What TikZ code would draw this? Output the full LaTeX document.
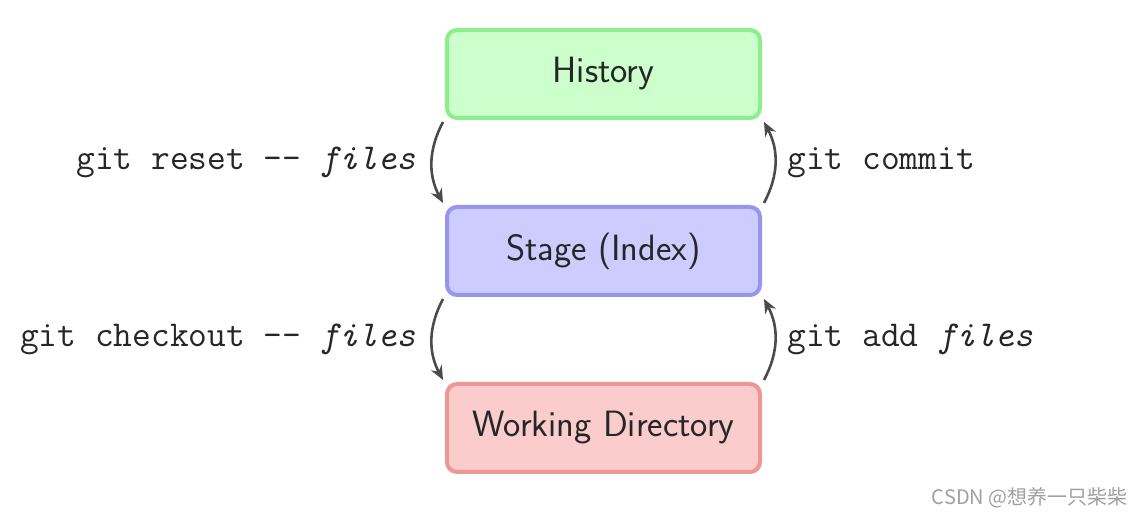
\documentclass[tikz,border=0pt]{standalone}
\usepackage{fontspec}
\newfontfamily\cjk{Noto Sans CJK SC}
\usetikzlibrary{arrows.meta}
\definecolor{hfill}{RGB}{204,255,204}
\definecolor{hdraw}{RGB}{140,238,140}
\definecolor{sfill}{RGB}{204,204,255}
\definecolor{sdraw}{RGB}{150,150,238}
\definecolor{wfill}{RGB}{250,204,204}
\definecolor{wdraw}{RGB}{236,150,150}
\definecolor{arr}{RGB}{75,75,75}
\definecolor{wm}{RGB}{160,160,160}
\tikzset{
  box/.style={rounded corners=5pt, line width=2pt, minimum width=156.5pt, minimum height=44pt,
    font=\sffamily\fontsize{18.3}{22}\selectfont, text=black!85},
  cmd/.style={font=\ttfamily\fontsize{18.2}{21}\selectfont, text=black!85, inner sep=0pt},
  flow/.style={-{Stealth[length=7pt,width=6pt]}, line width=1.3pt, draw=arr}
}
\newcommand{\fl}{\textit{files}}
\begin{document}
\begin{tikzpicture}[x=0.5pt,y=-0.5pt]
\useasboundingbox (0,0) rectangle (1141,517);
\node[box, fill=hfill, draw=hdraw] (hist) at (603.5,74) {History};
\node[box, fill=sfill, draw=sdraw] (stage) at (603.5,251) {Stage (Index)};
\node[box, fill=wfill, draw=wdraw] (wd) at (603.5,428) {Working Directory};
\draw[flow] ([xshift=-1pt,yshift=-1pt]hist.south west) to[bend right=28] ([xshift=-1pt,yshift=1pt]stage.north west);
\draw[flow] ([xshift=1pt,yshift=1pt]stage.north east) to[bend right=28] ([xshift=1pt,yshift=-1pt]hist.south east);
\draw[flow] ([xshift=-1pt,yshift=-1pt]stage.south west) to[bend right=28] ([xshift=-1pt,yshift=1pt]wd.north west);
\draw[flow] ([xshift=1pt,yshift=1pt]wd.north east) to[bend right=28] ([xshift=1pt,yshift=-1pt]stage.south east);
\node[cmd, anchor=base east] (reset) at (416,170) {git reset -- \fl};
\node[cmd, anchor=base west] (commit) at (787,170) {git commit};
\node[cmd, anchor=base east] (checkout) at (416,347) {git checkout -- \fl};
\node[cmd, anchor=base west] (add) at (787,347) {git add \fl};
\node[anchor=base east, inner sep=0pt, text=wm, font=\cjk\fontsize{10}{12}\selectfont] (mark) at (1128,505) {CSDN @想养一只柴柴};
\end{tikzpicture}
\end{document}
